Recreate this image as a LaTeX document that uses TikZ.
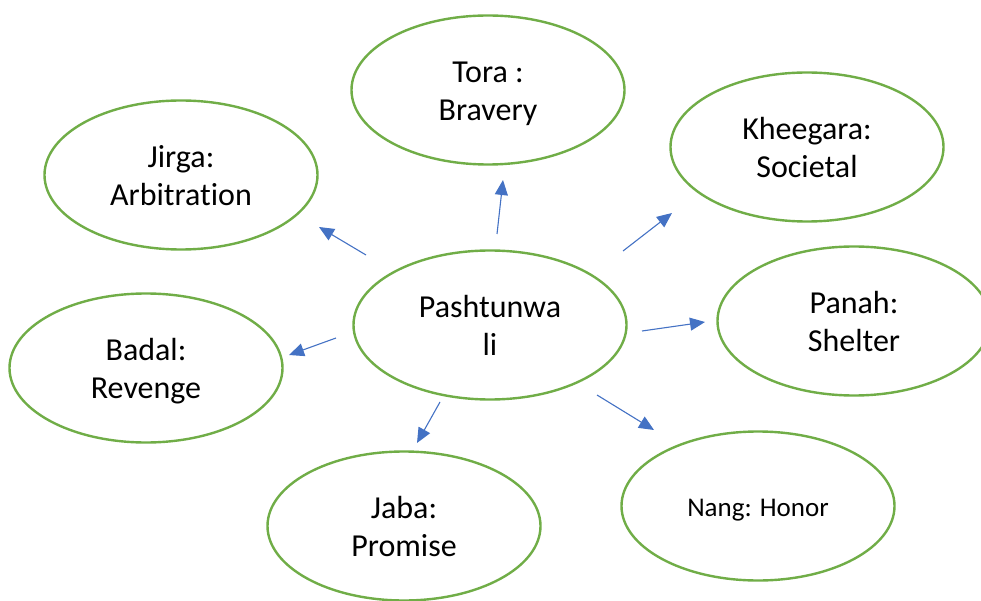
\documentclass[tikz,border=0pt]{standalone}
\usepackage{fontspec}
\setmainfont{Carlito}[Ligatures=NoCommon]
\usetikzlibrary{shapes.geometric,arrows.meta}
\definecolor{egreen}{HTML}{70AD47}
\definecolor{ablue}{HTML}{4472C4}
\newcommand{\elltext}[1]{\raisebox{-4pt}[\height][\depth]{\begin{tabular}{@{}c@{}}#1\end{tabular}}}
\tikzset{
  ell/.style={ellipse, draw=egreen, line width=2.4pt, fill=white,
    minimum width=273pt, minimum height=149pt, inner sep=0pt,
    font=\fontsize{32}{38}\selectfont},
  conn/.style={draw=ablue, line width=1.1pt,
    -{Triangle[length=15pt,width=13pt]}}
}
\begin{document}
\begin{tikzpicture}[x=1pt,y=-1pt]
\useasboundingbox (0,0) rectangle (981,601);
\node[ell] (tora) at (488,90) {\elltext{Tora :\\Bravery}};
\node[ell] (jirga) at (181,175) {\elltext{Jirga:\\Arbitration}};
\node[ell] (khee) at (807,147) {\elltext{Kheegara:\\Societal}};
\node[ell] (pasht) at (490,325) {\elltext{Pashtunwa\\li}};
\node[ell] (panah) at (854,321) {\elltext{Panah:\\Shelter}};
\node[ell] (badal) at (146,368) {\elltext{Badal:\\Revenge}};
\node[ell] (jaba) at (404,526) {\elltext{Jaba:\\Promise}};
\node[ell, font=\fontsize{27}{32}\selectfont] (nang) at (758,506) {\elltext{Nang: Honor}};
\coordinate (s1) at (366,255); \coordinate (e1) at (319,227);
\coordinate (s2) at (497,234); \coordinate (e2) at (503,180);
\coordinate (s3) at (623,251); \coordinate (e3) at (672,213);
\coordinate (s4) at (642,331); \coordinate (e4) at (705,322);
\coordinate (s5) at (336,338); \coordinate (e5) at (289,355);
\coordinate (s6) at (440,402); \coordinate (e6) at (417,443);
\coordinate (s7) at (597,395); \coordinate (e7) at (654,430);
\draw[conn] (s1) -- (e1);
\draw[conn] (s2) -- (e2);
\draw[conn] (s3) -- (e3);
\draw[conn] (s4) -- (e4);
\draw[conn] (s5) -- (e5);
\draw[conn] (s6) -- (e6);
\draw[conn] (s7) -- (e7);
\end{tikzpicture}
\end{document}
